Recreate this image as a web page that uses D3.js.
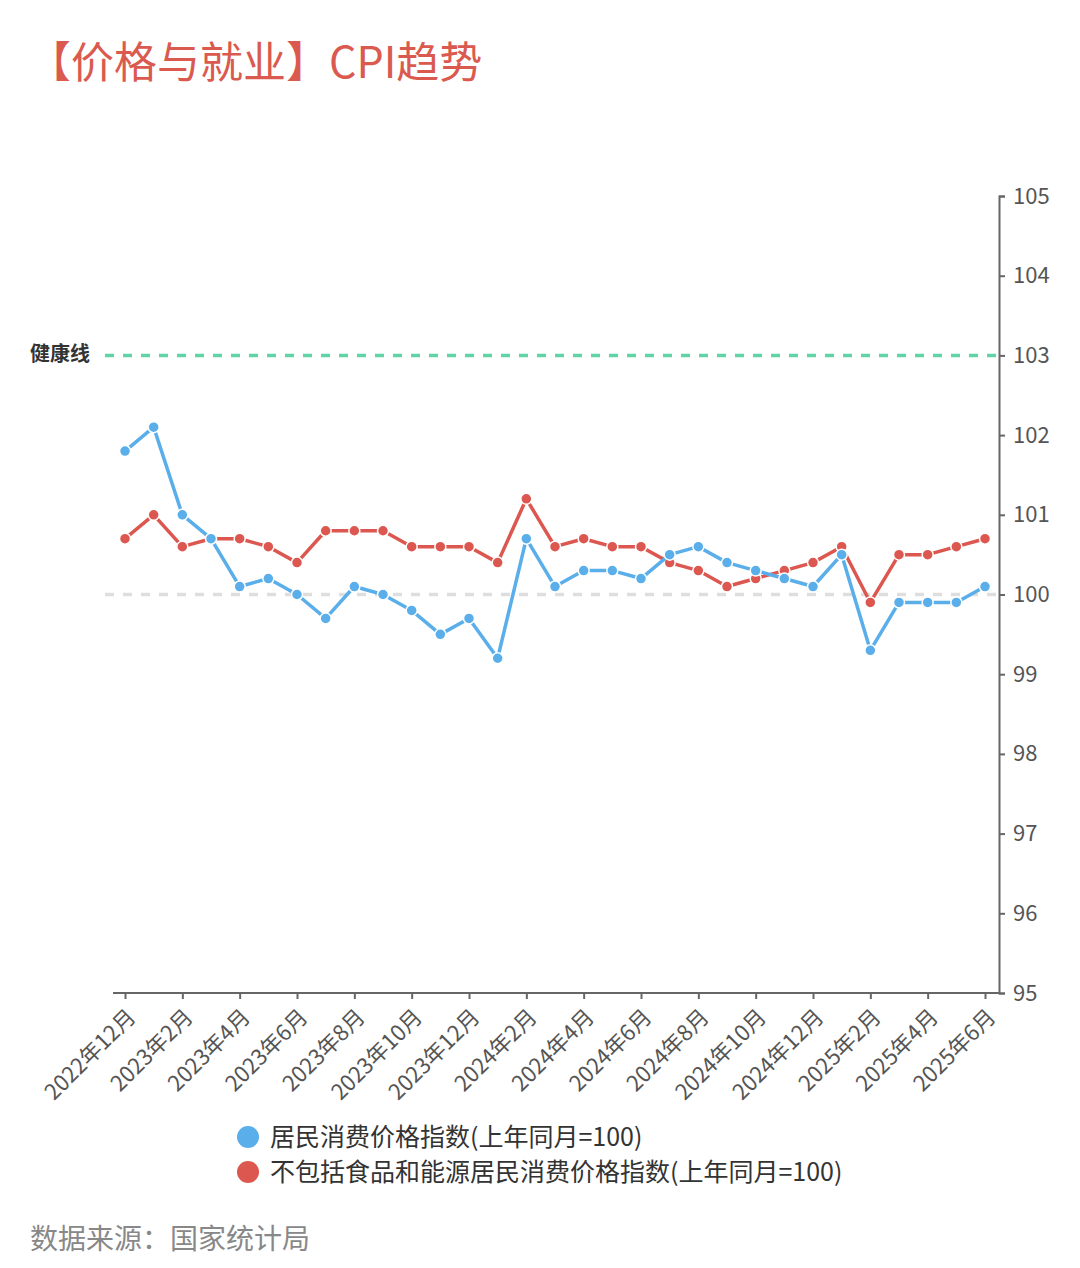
<!DOCTYPE html>
<html>
<head>
<meta charset="utf-8">
<script src="https://cdn.jsdelivr.net/npm/d3@7"></script>
<style>
  html, body { margin: 0; padding: 0; background: #fff; }
  svg { display: block; font-family: "Noto Sans CJK SC", "Noto Sans", sans-serif; }
</style>
</head>
<body>
<svg id="chart" width="1080" height="1268"></svg>
<script>
// months shown on the x axis
var months = [
  '2022年12月','2023年1月','2023年2月','2023年3月','2023年4月','2023年5月','2023年6月',
  '2023年7月','2023年8月','2023年9月','2023年10月','2023年11月','2023年12月',
  '2024年1月','2024年2月','2024年3月','2024年4月','2024年5月','2024年6月',
  '2024年7月','2024年8月','2024年9月','2024年10月','2024年11月','2024年12月',
  '2025年1月','2025年2月','2025年3月','2025年4月','2025年5月','2025年6月'
];
// 居民消费价格指数
var cpi = [101.8, 102.1, 101.0, 100.7, 100.1, 100.2, 100.0, 99.7, 100.1, 100.0, 99.8, 99.5, 99.7,
  99.2, 100.7, 100.1, 100.3, 100.3, 100.2, 100.5, 100.6, 100.4, 100.3, 100.2, 100.1,
  100.5, 99.3, 99.9, 99.9, 99.9, 100.1];
// 不包括食品和能源
var core = [100.7, 101.0, 100.6, 100.7, 100.7, 100.6, 100.4, 100.8, 100.8, 100.8, 100.6, 100.6, 100.6,
  100.4, 101.2, 100.6, 100.7, 100.6, 100.6, 100.4, 100.3, 100.1, 100.2, 100.3, 100.4,
  100.6, 99.9, 100.5, 100.5, 100.6, 100.7];
var yTicks = [95, 96, 97, 98, 99, 100, 101, 102, 103, 104, 105];
var healthLine = 103;
var baseLine = 100;
var seriesNames = ['居民消费价格指数(上年同月=100)', '不包括食品和能源居民消费价格指数(上年同月=100)'];
var seriesColors = ['#5aaeea', '#dc5750'];

var svg = d3.select('#chart');

svg.append('text')
  .attr('x', 28).attr('y', 78)
  .attr('font-size', 43)
  .attr('fill', '#da5a4f')
  .text('【价格与就业】CPI趋势');

var x = d3.scalePoint().domain(months).range([125, 985]);
var y = d3.scaleLinear().domain([95, 105]).range([993, 196]);

// reference lines
svg.append('line')
  .attr('x1', 105).attr('x2', 999)
  .attr('y1', y(baseLine)).attr('y2', y(baseLine))
  .attr('stroke', '#dedede').attr('stroke-width', 3.5)
  .attr('stroke-dasharray', '9,9');

svg.append('line')
  .attr('x1', 105).attr('x2', 999)
  .attr('y1', y(healthLine)).attr('y2', y(healthLine))
  .attr('stroke', '#62d3a6').attr('stroke-width', 3.5)
  .attr('stroke-dasharray', '9,9');

svg.append('text')
  .attr('x', 90).attr('y', y(healthLine))
  .attr('dy', '0.3em')
  .attr('text-anchor', 'end')
  .attr('font-size', 20).attr('font-weight', 'bold')
  .attr('fill', '#333')
  .text('健康线');

// y axis on the right
var yAxis = svg.append('g')
  .attr('transform', 'translate(999,0)')
  .call(d3.axisRight(y).tickValues(yTicks).tickSize(6).tickPadding(8).tickFormat(d3.format('d')));
yAxis.select('.domain').attr('stroke', '#666').attr('stroke-width', 2);
yAxis.selectAll('.tick line').attr('stroke', '#666').attr('stroke-width', 2);
yAxis.selectAll('.tick text').attr('fill', '#555').attr('font-size', 22)
  .attr('font-family', '"Noto Sans CJK SC", sans-serif');

// x axis
var xAxis = svg.append('g')
  .attr('transform', 'translate(0,993)')
  .call(d3.axisBottom(x)
    .tickValues(months.filter(function(d, i) { return i % 2 === 0; }))
    .tickSize(6).tickSizeOuter(0));
xAxis.select('.domain').attr('d', 'M113,0H999').attr('stroke', '#666').attr('stroke-width', 2);
xAxis.selectAll('.tick line').attr('stroke', '#666').attr('stroke-width', 2);
xAxis.selectAll('.tick text')
  .attr('fill', '#555').attr('font-size', 22)
  .attr('font-family', '"Noto Sans CJK SC", sans-serif')
  .attr('text-anchor', 'end')
  .attr('x', 0).attr('y', 0).attr('dy', '0.35em')
  .attr('transform', 'translate(6,20) rotate(-45)');

// series
var line = d3.line()
  .x(function(d, i) { return x(months[i]); })
  .y(function(d) { return y(d); });

[core, cpi].forEach(function(values, k) {
  var color = k === 0 ? seriesColors[1] : seriesColors[0];
  var g = svg.append('g');
  g.append('path')
    .datum(values)
    .attr('d', line)
    .attr('fill', 'none')
    .attr('stroke', color)
    .attr('stroke-width', 3.5)
    .attr('stroke-linejoin', 'round');
  g.selectAll('circle')
    .data(values)
    .enter().append('circle')
    .attr('cx', function(d, i) { return x(months[i]); })
    .attr('cy', function(d) { return y(d); })
    .attr('r', 5.5)
    .attr('fill', color)
    .attr('stroke', '#fff')
    .attr('stroke-width', 1.5);
});

// legend
var legend = svg.append('g').attr('transform', 'translate(248,1137)');
seriesNames.forEach(function(name, i) {
  var row = legend.append('g').attr('transform', 'translate(0,' + (i * 35) + ')');
  row.append('circle').attr('r', 11).attr('fill', seriesColors[i]);
  row.append('text')
    .attr('x', 22).attr('dy', '0.35em')
    .attr('font-size', 25).attr('fill', '#333')
    .text(name);
});

svg.append('text')
  .attr('x', 30).attr('y', 1249)
  .attr('font-size', 28).attr('fill', '#888')
  .text('数据来源：国家统计局');
</script>
</body>
</html>
